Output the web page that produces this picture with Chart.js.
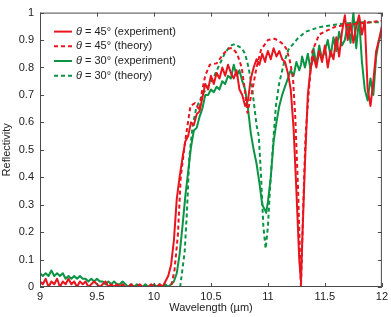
<!DOCTYPE html>
<html lang="en">
<head>
    <meta charset="UTF-8">
    <title>Reflectivity vs wavelength</title>
    <script src="https://cdn.jsdelivr.net/npm/chart.js"></script>
    <style>
        html, body { margin: 0; padding: 0; background: #fff; }
        canvas { display: block; }
    </style>
</head>
<body>
    <canvas id="chart" width="391" height="317"></canvas>

    <script>
        // Measured curves (wavelength in µm)
        const expX = [
            9.000, 9.025, 9.050, 9.075, 9.100, 9.125, 9.150, 9.175, 9.200, 9.225,
            9.250, 9.275, 9.300, 9.325, 9.350, 9.375, 9.400, 9.425, 9.450, 9.475,
            9.500, 9.525, 9.550, 9.575, 9.600, 9.625, 9.650, 9.675, 9.700, 9.725,
            9.750, 9.775, 9.800, 9.825, 9.850, 9.875, 9.900, 9.925, 9.950, 9.975,
            10.000, 10.025, 10.050, 10.075, 10.100, 10.125, 10.150, 10.175, 10.200, 10.225,
            10.250, 10.275, 10.300, 10.325, 10.350, 10.375, 10.400, 10.425, 10.450, 10.475,
            10.500, 10.525, 10.550, 10.575, 10.600, 10.625, 10.650, 10.675, 10.700, 10.725,
            10.750, 10.775, 10.800, 10.825, 10.850, 10.875, 10.900, 10.925, 10.950, 10.975,
            10.985, 11.000, 11.025, 11.050, 11.075, 11.100, 11.125, 11.150, 11.175, 11.200,
            11.225, 11.250, 11.275, 11.290, 11.300, 11.325, 11.350, 11.375, 11.400, 11.425,
            11.450, 11.475, 11.500, 11.525, 11.550, 11.575, 11.600, 11.625, 11.650, 11.675,
            11.700, 11.725, 11.750, 11.775, 11.800, 11.825, 11.850, 11.875, 11.900, 11.925,
            11.950, 11.975, 12.000
        ];
        const red45Exp = [
            0.02, 0.01, 0.03, 0.00, 0.02, 0.01, 0.03, 0.00, 0.02, 0.01,
            0.03, 0.01, 0.02, 0.00, 0.02, 0.01, 0.02, 0.00, 0.01, 0.02,
            0.01, 0.00, 0.01, 0.02, 0.00, 0.01, 0.00, 0.01, 0.00, 0.01,
            0.00, 0.00, 0.01, 0.00, 0.00, 0.01, 0.00, 0.00, 0.00, 0.01,
            0.00, 0.00, 0.01, 0.00, 0.02, 0.04, 0.08, 0.17, 0.32, 0.40,
            0.47, 0.53, 0.55, 0.60, 0.59, 0.63, 0.64, 0.69, 0.74, 0.72,
            0.77, 0.74, 0.78, 0.76, 0.80, 0.77, 0.81, 0.78, 0.76, 0.79,
            0.72, 0.70, 0.66, 0.68, 0.76, 0.80, 0.83, 0.81, 0.85, 0.82,
            0.84, 0.86, 0.83, 0.87, 0.84, 0.86, 0.83, 0.82, 0.78, 0.72,
            0.58, 0.35, 0.10, 0.02, 0.15, 0.45, 0.70, 0.80, 0.84, 0.80,
            0.86, 0.82, 0.88, 0.80, 0.86, 0.83, 0.91, 0.84, 0.93, 0.99,
            0.90, 0.96, 0.89, 0.95, 0.99, 0.92, 0.97, 0.72, 0.66, 0.75,
            0.86, 0.90, 0.95
        ];
        const green30Exp = [
            0.05, 0.04, 0.05, 0.04, 0.06, 0.04, 0.05, 0.04, 0.05, 0.03,
            0.04, 0.03, 0.04, 0.03, 0.04, 0.03, 0.03, 0.02, 0.03, 0.02,
            0.03, 0.02, 0.02, 0.01, 0.02, 0.01, 0.02, 0.01, 0.01, 0.02,
            0.01, 0.00, 0.01, 0.00, 0.01, 0.00, 0.00, 0.01, 0.00, 0.00,
            0.01, 0.00, 0.01, 0.00, 0.01, 0.00, 0.01, 0.02, 0.05, 0.12,
            0.22, 0.33, 0.42, 0.51, 0.57, 0.58, 0.62, 0.65, 0.70, 0.70,
            0.72, 0.71, 0.73, 0.72, 0.75, 0.74, 0.77, 0.76, 0.81, 0.77,
            0.79, 0.75, 0.72, 0.65, 0.56, 0.50, 0.45, 0.38, 0.30, 0.28,
            0.27, 0.31, 0.40, 0.53, 0.60, 0.66, 0.70, 0.73, 0.76, 0.79,
            0.77, 0.82, 0.79, 0.81, 0.84, 0.80, 0.85, 0.79, 0.87, 0.81,
            0.88, 0.83, 0.86, 0.90, 0.84, 0.91, 0.86, 0.93, 0.88, 0.90,
            0.96, 0.89, 1.00, 0.87, 0.98, 0.82, 0.72, 0.68, 0.76, 0.70,
            0.84, 0.90, 0.93
        ];

        // Theory curves
        const red45ThX = [
            9.00, 10.15, 10.18, 10.21, 10.235, 10.27, 10.32, 10.36, 10.40, 10.42,
            10.45, 10.49, 10.55, 10.61, 10.66, 10.69, 10.73, 10.77, 10.80, 10.82,
            10.86, 10.90, 10.94, 11.00, 11.06, 11.12, 11.16, 11.19, 11.22, 11.24,
            11.265, 11.29, 11.31, 11.33, 11.36, 11.39, 11.45, 11.52, 11.60, 11.70,
            11.80, 11.90, 12.00
        ];
        const red45Th = [
            0.00, 0.00, 0.06, 0.19, 0.40, 0.52, 0.66, 0.67, 0.645, 0.71,
            0.77, 0.81, 0.815, 0.85, 0.87, 0.87, 0.85, 0.80, 0.71, 0.635,
            0.71, 0.80, 0.865, 0.90, 0.905, 0.89, 0.87, 0.83, 0.76, 0.62,
            0.35, 0.00, 0.30, 0.55, 0.72, 0.86, 0.92, 0.935, 0.95, 0.955,
            0.96, 0.965, 0.97
        ];
        const green30ThX = [
            9.00, 10.23, 10.27, 10.29, 10.31, 10.34, 10.37, 10.43, 10.49, 10.53,
            10.58, 10.62, 10.67, 10.71, 10.77, 10.80, 10.83, 10.86, 10.88, 10.90,
            10.92, 10.94, 10.96, 10.98, 11.00, 11.02, 11.05, 11.07, 11.10, 11.14,
            11.18, 11.26, 11.33, 11.45, 11.60, 11.80, 12.00
        ];
        const green30Th = [
            0.00, 0.00, 0.13, 0.28, 0.47, 0.59, 0.65, 0.705, 0.74, 0.77,
            0.815, 0.85, 0.88, 0.885, 0.87, 0.85, 0.80, 0.73, 0.66, 0.59,
            0.55, 0.40, 0.22, 0.14, 0.22, 0.37, 0.55, 0.66, 0.745, 0.815,
            0.865, 0.905, 0.93, 0.947, 0.957, 0.965, 0.965
        ];

        const seriesLabels = ['45° (experiment)', '45° (theory)', '30° (experiment)', '30° (theory)'];
        const RED = '#e8141e';
        const GREEN = '#0b9444';
        const FONT = '"Liberation Sans", Arial, sans-serif';

        const pts = (xs, ys) => xs.map((x, i) => ({ x: x, y: ys[i] }));
        const plain = v => String(Math.round(v * 10) / 10);

        // box around the plot with inward ticks on all four sides
        const frame = {
            id: 'frame',
            afterDatasetsDraw(chart) {
                const { ctx, chartArea: a, scales: { x, y } } = chart;
                ctx.save();
                ctx.strokeStyle = '#4a4a4a';
                ctx.lineWidth = 1;
                ctx.strokeRect(a.left + 0.5, a.top + 0.5, a.right - a.left - 1, a.bottom - a.top - 1);
                ctx.beginPath();
                x.ticks.forEach(t => {
                    const px = Math.round(x.getPixelForValue(t.value)) + 0.5;
                    ctx.moveTo(px, a.bottom); ctx.lineTo(px, a.bottom - 4);
                    ctx.moveTo(px, a.top); ctx.lineTo(px, a.top + 4);
                });
                y.ticks.forEach(t => {
                    const py = Math.round(y.getPixelForValue(t.value)) + 0.5;
                    ctx.moveTo(a.left, py); ctx.lineTo(a.left + 4, py);
                    ctx.moveTo(a.right, py); ctx.lineTo(a.right - 4, py);
                });
                ctx.stroke();
                ctx.restore();
            }
        };

        // legend with italic theta
        const legendBox = {
            id: 'legendBox',
            afterDraw(chart) {
                const { ctx, chartArea: a } = chart;
                ctx.save();
                chart.data.datasets.forEach((ds, i) => {
                    const yy = a.top + 19 + i * 14.7;
                    const x0 = a.left + 14;
                    ctx.strokeStyle = ds.borderColor;
                    ctx.lineWidth = 2;
                    ctx.setLineDash(ds.borderDash || []);
                    ctx.beginPath();
                    ctx.moveTo(x0, yy); ctx.lineTo(x0 + 18, yy);
                    ctx.stroke();
                    ctx.setLineDash([]);
                    ctx.fillStyle = '#222';
                    ctx.textBaseline = 'middle';
                    ctx.font = 'italic 11px ' + FONT;
                    ctx.fillText('θ', x0 + 22, yy);
                    const w = ctx.measureText('θ').width;
                    ctx.font = '11px ' + FONT;
                    ctx.fillText(' = ' + seriesLabels[i], x0 + 22 + w, yy);
                });
                ctx.restore();
            }
        };

        new Chart(document.getElementById('chart'), {
            type: 'line',
            data: {
                datasets: [
                    { label: seriesLabels[0], data: pts(expX, red45Exp), borderColor: RED, borderWidth: 2 },
                    { label: seriesLabels[1], data: pts(red45ThX, red45Th), borderColor: RED, borderWidth: 2, borderDash: [4, 3] },
                    { label: seriesLabels[2], data: pts(expX, green30Exp), borderColor: GREEN, borderWidth: 2 },
                    { label: seriesLabels[3], data: pts(green30ThX, green30Th), borderColor: GREEN, borderWidth: 2, borderDash: [4, 3] }
                ]
            },
            options: {
                responsive: false,
                animation: false,
                devicePixelRatio: 1,
                layout: { padding: { top: 5, right: 4, left: 0, bottom: 0 } },
                elements: { point: { radius: 0 }, line: { tension: 0, borderJoinStyle: 'round' } },
                plugins: { legend: { display: false }, tooltip: { enabled: false } },
                scales: {
                    x: {
                        type: 'linear', min: 9, max: 12,
                        ticks: { stepSize: 0.5, autoSkip: false, callback: plain, color: '#222', font: { family: FONT, size: 11 }, padding: 3, maxRotation: 0 },
                        grid: { display: false, drawTicks: false },
                        border: { display: false },
                        title: { display: true, text: 'Wavelength (µm)', color: '#222', font: { family: FONT, size: 11 }, padding: { top: 0, bottom: 2 } },
                        afterFit: s => { s.height = 30; }
                    },
                    y: {
                        min: 0, max: 1,
                        ticks: { stepSize: 0.1, autoSkip: false, callback: plain, color: '#222', font: { family: FONT, size: 11 }, padding: 6 },
                        grid: { display: false, drawTicks: false },
                        border: { display: false },
                        title: { display: true, text: 'Reflectivity', color: '#222', font: { family: FONT, size: 11 }, padding: { top: 0, bottom: 0 } },
                        afterFit: s => { s.width = 40; }
                    }
                }
            },
            plugins: [frame, legendBox]
        });
    </script>
</body>
</html>
